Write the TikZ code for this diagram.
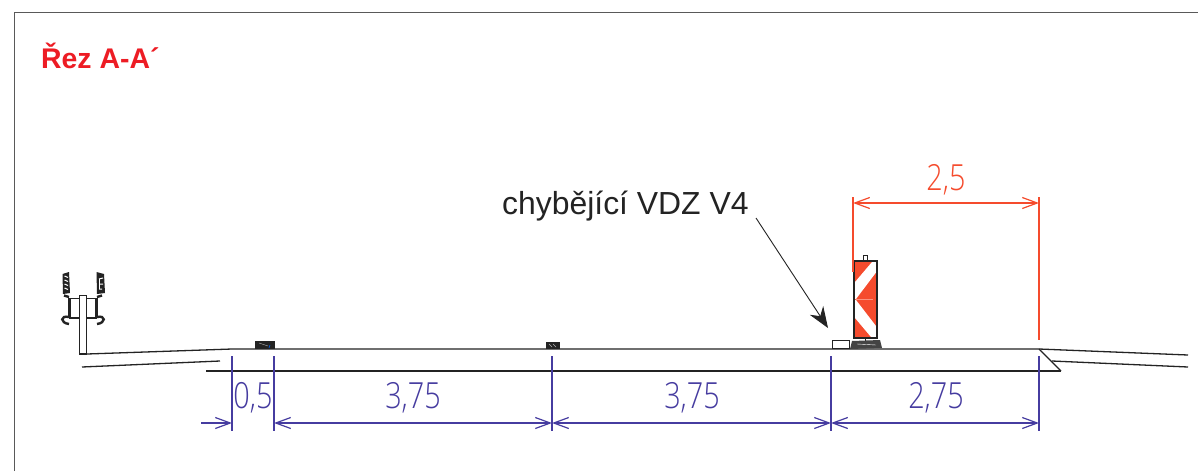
\documentclass[tikz,border=0pt]{standalone}
\usepackage{fontspec}
\setmainfont{Liberation Sans}
\newfontfamily\cadfont{Open Sans Light}
\definecolor{dimblue}{RGB}{70,60,160}
\definecolor{dimred}{RGB}{245,75,45}
\definecolor{titlered}{RGB}{237,28,36}
\definecolor{ink}{RGB}{35,35,35}
\usetikzlibrary{arrows.meta}
\tikzset{
 dimtip/.tip={Straight Barb[length=15pt,width=11pt,line width=1.2pt]},
 bluedim/.style={draw=dimblue,line width=1.4pt},
 reddim/.style={draw=dimred,line width=1.4pt},
 road/.style={draw=ink,line width=1.3pt},
 bluetext/.style={text=dimblue,font=\cadfont\fontsize{36}{36}\selectfont,xscale=.8,inner sep=0pt},
 redtext/.style={text=dimred,font=\cadfont\fontsize{36}{36}\selectfont,xscale=.8,inner sep=0pt},
}
\begin{document}
\begin{tikzpicture}[x=1pt,y=-1pt]
\useasboundingbox (0,0) rectangle (1198,471);
\fill[white] (0,0) rectangle (1198,471);
\draw[draw=black!65,line width=1pt] (14.5,471) -- (14.5,12.5) -- (1198,12.5);
\node[text=titlered,font=\bfseries\fontsize{28.4}{28.4}\selectfont,anchor=base west,inner sep=0pt] (title) at (41,68) {Řez A-A´};
% named points
\coordinate (a) at (232,349); \coordinate (b) at (1039,349);
\coordinate (d1) at (232,423); \coordinate (d2) at (274,423); \coordinate (d3) at (552,423);
\coordinate (d4) at (831,423); \coordinate (d5) at (1039,423); \coordinate (d0) at (201,423);
% road
\draw[road] (87,354) -- (a) -- (b) -- (1188,355);
\draw[road] (82,367) -- (220,361);
\draw[road,line width=1.6pt] (206,371) -- (1061,371);
\draw[road] (b) -- (1061,371);
\draw[road] (1052,361) -- (1188,367);
% road studs
\fill[ink] (255,341) rectangle (275,349);
\draw[white!70!black,line width=.4pt] (259,343) -- (268,346);
\draw[blue!60!cyan,line width=.6pt] (270,345) -- (269,348);
\fill[ink] (546,342) rectangle (560,349);
\draw[white!70!black,line width=.4pt] (549,344) -- (552,347) (553,344) -- (556,347);
% post
\draw[ink,line width=1.2pt] (70,298.5) rectangle (96,318);
\begin{scope}[ink,line width=2.4pt]
\draw (69,298) -- (69,318); \draw (97,298) -- (97,318);
\draw (69,297) -- (64,295.5); \draw (97,297) -- (102,295.5);
\draw (69,317) .. controls (60,315) and (60,323) .. (69,324);
\draw (97,317) .. controls (106,315) and (106,323) .. (97,324);
\fill (62.5,274) -- (69,272) -- (70,293) -- (63,294) -- cycle;
\fill (96.5,272) -- (104,274) -- (105,293) -- (97,294) -- cycle;
\end{scope}
\draw[ink,line width=1.2pt,fill=white] (79.5,295.5) rectangle (86.5,354);
\foreach \yy in {276,280,284,288}{
 \draw[white,line width=1pt] (64.5,\yy) -- (68,\yy+1.5);
}
\draw[white,line width=1pt] (99,279) -- (103,278) (99,284) -- (103,284) (99,289) -- (102,289);
\draw[white,line width=1pt] (99,279) -- (99,289);
% sign
\fill[dimred] (854,261) rectangle (877,338);
\fill[white] (855,282) -- (872,262) -- (876,262) -- (876,272.5) -- (856,299) -- (855,299) -- cycle;
\fill[white] (856,300) -- (876,326) -- (876,337) -- (871,337) -- (855,318) -- (855,300) -- cycle;
\draw[dimred!60!white,line width=.5pt] (856,299.5) -- (873,299.5);
\draw[ink,line width=1.2pt] (854,261) rectangle (877,338);
\draw[ink,line width=1pt] (863,261) -- (863,255.5) -- (867,255.5) -- (867,261);
\draw[ink,line width=1pt] (865,338) -- (865,341);
\fill[ink!85] (852,341) -- (880,340) -- (882,348) -- (850,349) -- cycle;
\draw[white,line width=.4pt] (857,344) -- (876,345);
% white bar
\draw[ink,line width=.9pt] (832,340.5) rectangle (849.5,348.5);
% red dim
\coordinate (r1) at (853,203); \coordinate (r2) at (1039,203);
\draw[reddim] (853,197) -- (853,272);
\draw[reddim] (1039,197) -- (1039,340);
\draw[reddim,{dimtip}-{dimtip}] (r1) -- (r2);
\node[redtext] (t25) at (946,180) {2,5};
% blue dims
\foreach \xx in {232,274,552,831,1039}{
 \draw[bluedim] (\xx,356) -- (\xx,431);
}
\draw[bluedim,-{dimtip}] (d0) -- (d1);
\draw[bluedim,{dimtip}-{dimtip}] (d2) -- (d3);
\draw[bluedim,{dimtip}-{dimtip}] (d3) -- (d4);
\draw[bluedim,{dimtip}-{dimtip}] (d4) -- (d5);
\node[bluetext] (t05) at (253,398) {0,5};
\node[bluetext] (t375a) at (413,398) {3,75};
\node[bluetext] (t375b) at (692,398) {3,75};
\node[bluetext] (t275) at (936,398) {2,75};
% label
\node[text=ink,font=\fontsize{31.9}{31.9}\selectfont,anchor=base west,inner sep=0pt] (lab) at (502,214) {chybějící VDZ V4};
\coordinate (tip) at (828,328);
\coordinate (tail) at (756,218);
\draw[ink,line width=.9pt,-{Stealth[length=21pt,width=16pt]}] (tail) -- (tip);
\end{tikzpicture}
\end{document}
